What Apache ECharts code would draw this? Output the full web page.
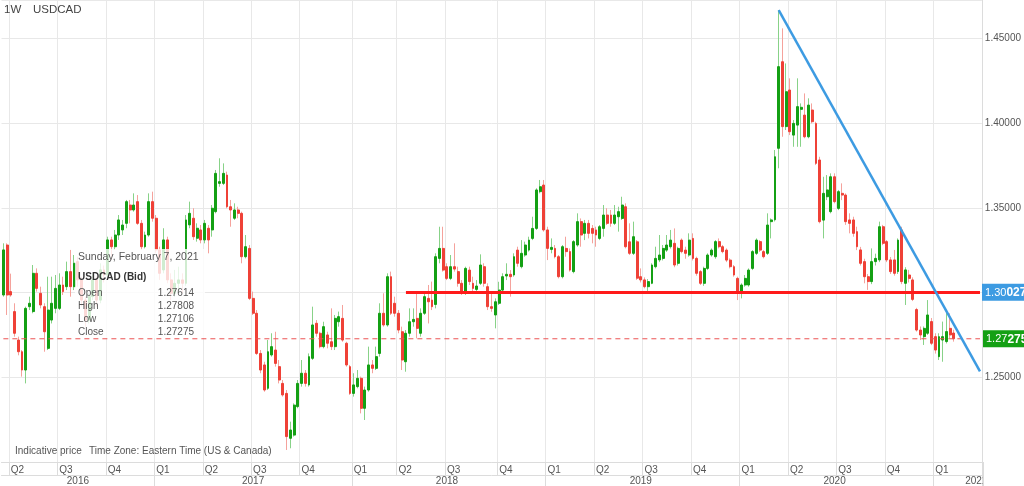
<!DOCTYPE html>
<html><head><meta charset="utf-8">
<script src="https://cdn.jsdelivr.net/npm/echarts@6/dist/echarts.min.js"></script>
<style>html,body{margin:0;padding:0;background:#fff}#c{width:1024px;height:486px}</style>
</head><body><div id="c"></div>
<script>
// ---- data (weekly USDCAD bid candles, first week starts Sunday 2016-03-20) ----
const firstWeek = '2016-03-20';
const emptyWeeks = 7;
const open = [
1.2986,1.3281,1.3006,1.2888,1.2720,1.2651,1.2543,1.2917,1.2888,1.3114,1.2996,1.2917,1.2671,1.2838,1.2907,1.2907,1.3045,1.3035,1.3124,1.3035,
1.3183,1.3075,1.2956,1.2838,1.2976,1.3075,1.2956,1.3134,1.3104,1.3311,1.3271,1.3340,1.3370,1.3409,1.3517,1.3488,1.3537,1.3409,1.3271,1.3340,
1.3537,1.3439,1.3252,1.3134,1.3311,1.3075,1.2996,1.3055,1.3075,1.3055,1.3400,1.3439,1.3321,1.3370,1.3311,1.3380,1.3370,1.3478,1.3645,1.3645,
1.3694,1.3507,1.3439,1.3488,1.3468,1.3212,1.3261,1.2966,1.2878,1.2641,1.2573,1.2435,1.2632,1.2661,1.2563,1.2464,1.2405,1.2140,1.2159,1.2327,
1.2464,1.2524,1.2455,1.2612,1.2819,1.2760,1.2681,1.2750,1.2710,1.2681,1.2828,1.2848,1.2701,1.2563,1.2405,1.2445,1.2494,1.2317,1.2425,1.2573,
1.2553,1.2641,1.2878,1.2809,1.3094,1.2937,1.2878,1.2769,1.2592,1.2760,1.2828,1.2848,1.2760,1.2878,1.2966,1.2956,1.2930,1.3202,1.3261,1.3153,
1.3084,1.3153,1.3124,1.3055,1.2996,1.3133,1.3055,1.3019,1.3055,1.3153,1.3035,1.2917,1.2868,1.2937,1.3015,1.3098,1.3108,1.3104,1.3251,1.3153,
1.3222,1.3251,1.3320,1.3379,1.3596,1.3635,1.3370,1.3255,1.3261,1.3212,1.3094,1.3261,1.3242,1.3124,1.3281,1.3419,1.3350,1.3409,1.3379,1.3370,
1.3320,1.3379,1.3458,1.3458,1.3409,1.3448,1.3438,1.3507,1.3300,1.3232,1.3300,1.3094,1.3075,1.3035,1.3055,1.3153,1.3193,1.3202,1.3251,1.3271,
1.3291,1.3173,1.3310,1.3251,1.3222,1.3320,1.3202,1.3124,1.3055,1.3143,1.3222,1.3212,1.3301,1.3271,1.3251,1.3192,1.3153,1.3084,1.2996,1.3045,
1.3045,1.3143,1.3232,1.3301,1.3242,1.3232,1.3419,1.3430,1.3852,1.4363,1.3980,1.4196,1.3930,1.3989,1.4082,1.4048,1.3920,1.4078,1.3999,1.3783,
1.3428,1.3566,1.3478,1.3684,1.3497,1.3586,1.3576,1.3429,1.3429,1.3360,1.3252,1.3183,1.3094,1.3065,1.3183,1.3193,1.3389,1.3301,1.3193,1.3193,
1.3124,1.3370,1.3055,1.3104,1.3075,1.2900,1.2779,1.2740,1.2760,1.2829,1.2740,1.2622,1.2720,1.2711,1.2789,1.27614];
const close = [
1.3252,1.2986,1.2986,1.2760,1.2651,1.2543,1.2907,1.2937,1.3114,1.3025,1.2927,1.2769,1.2897,1.2937,1.3025,1.3045,1.3006,1.3124,1.3035,1.3173,
1.3075,1.2956,1.2838,1.2976,1.3075,1.2956,1.3134,1.3104,1.3311,1.3271,1.3340,1.3429,1.3399,1.3537,1.3488,1.3517,1.3409,1.3271,1.3340,1.3537,
1.3439,1.3252,1.3114,1.3311,1.3075,1.2996,1.3055,1.3075,1.3055,1.3429,1.3468,1.3330,1.3380,1.3311,1.3409,1.3311,1.3498,1.3704,1.3655,1.3704,
1.3507,1.3488,1.3488,1.3468,1.3212,1.3271,1.2966,1.2878,1.2641,1.2543,1.2425,1.2651,1.2681,1.2582,1.2484,1.2396,1.2150,1.2189,1.2336,1.2464,
1.2524,1.2464,1.2622,1.2809,1.2760,1.2681,1.2799,1.2701,1.2681,1.2848,1.2858,1.2720,1.2573,1.2405,1.2455,1.2494,1.2317,1.2425,1.2573,1.2553,
1.2622,1.2878,1.2809,1.3094,1.2878,1.2878,1.2779,1.2602,1.2760,1.2828,1.2842,1.2789,1.2878,1.2976,1.2946,1.2917,1.3212,1.3261,1.3133,1.3084,
1.3153,1.3139,1.3055,1.2996,1.3143,1.3065,1.3025,1.3039,1.3163,1.3055,1.2917,1.2907,1.2946,1.3015,1.3094,1.3108,1.3094,1.3212,1.3173,1.3232,
1.3281,1.3310,1.3379,1.3606,1.3625,1.3370,1.3261,1.3267,1.3212,1.3094,1.3271,1.3242,1.3133,1.3301,1.3419,1.3340,1.3409,1.3350,1.3350,1.3340,
1.3389,1.3458,1.3409,1.3409,1.3458,1.3478,1.3517,1.3271,1.3232,1.3330,1.3085,1.3075,1.3035,1.3065,1.3163,1.3202,1.3222,1.3261,1.3281,1.3310,
1.3163,1.3261,1.3242,1.3232,1.3310,1.3202,1.3114,1.3055,1.3143,1.3222,1.3251,1.3301,1.3271,1.3242,1.3192,1.3153,1.3104,1.2996,1.3045,1.3084,
1.3133,1.3242,1.3310,1.3251,1.3212,1.3399,1.3429,1.3802,1.4334,1.3980,1.4186,1.3950,1.3999,1.4098,1.4094,1.3920,1.4107,1.4009,1.3763,1.3419,
1.3586,1.3606,1.3684,1.3537,1.3596,1.3576,1.3419,1.3409,1.3350,1.3271,1.3173,1.3094,1.3065,1.3183,1.3202,1.3389,1.3291,1.3193,1.3124,1.3114,
1.3310,1.3065,1.3134,1.3084,1.2960,1.2779,1.2750,1.2789,1.2868,1.2701,1.2661,1.2740,1.2740,1.2770,1.2750,1.27275];
const low = [
1.2976,1.2868,1.2976,1.2740,1.2630,1.2504,1.2464,1.2897,1.2878,1.3006,1.2907,1.2651,1.2661,1.2818,1.2878,1.2897,1.2986,1.3015,1.2976,1.3015,
1.3035,1.2917,1.2799,1.2818,1.2956,1.2917,1.2937,1.3060,1.3090,1.3193,1.3252,1.3311,1.3340,1.3380,1.3409,1.3478,1.3400,1.3252,1.3261,1.3330,
1.3419,1.3232,1.3075,1.3114,1.3055,1.2956,1.2976,1.2996,1.2996,1.3040,1.3380,1.3311,1.3301,1.3291,1.3291,1.3232,1.3330,1.3468,1.3625,1.3635,
1.3498,1.3389,1.3429,1.3439,1.3173,1.3202,1.2956,1.2868,1.2632,1.2524,1.2415,1.2425,1.2622,1.2563,1.2464,1.2386,1.2071,1.2081,1.2150,1.2317,
1.2445,1.2445,1.2445,1.2602,1.2740,1.2671,1.2671,1.2671,1.2661,1.2661,1.2799,1.2710,1.2563,1.2396,1.2386,1.2435,1.2287,1.2248,1.2415,1.2524,
1.2543,1.2622,1.2799,1.2799,1.2868,1.2858,1.2760,1.2543,1.2533,1.2740,1.2799,1.2730,1.2740,1.2868,1.2818,1.2897,1.2907,1.3173,1.3124,1.3074,
1.3074,1.3124,1.3035,1.2986,1.2986,1.3045,1.2996,1.2996,1.3045,1.3035,1.2897,1.2887,1.2789,1.2927,1.3005,1.3074,1.2976,1.3094,1.3153,1.3143,
1.3212,1.3242,1.3310,1.3370,1.3586,1.3360,1.3192,1.3232,1.3202,1.3084,1.3084,1.3212,1.3124,1.3114,1.3271,1.3271,1.3310,1.3320,1.3291,1.3271,
1.3310,1.3330,1.3399,1.3389,1.3399,1.3360,1.3429,1.3261,1.3222,1.3222,1.3075,1.3060,1.3025,1.3010,1.3050,1.3143,1.3180,1.3190,1.3240,1.3260,
1.3150,1.3160,1.3232,1.3200,1.3212,1.3190,1.3100,1.3045,1.3040,1.3133,1.3212,1.3200,1.3261,1.3232,1.3180,1.3143,1.3094,1.2956,1.2966,1.3035,
1.3035,1.3133,1.3222,1.3240,1.3202,1.3222,1.3320,1.3420,1.3734,1.3920,1.3960,1.3930,1.3861,1.3861,1.3861,1.3911,1.3911,1.3999,1.3753,1.3409,
1.3320,1.3546,1.3468,1.3527,1.3487,1.3546,1.3400,1.3350,1.3330,1.3251,1.3160,1.3055,1.3016,1.3050,1.3160,1.3180,1.3280,1.3180,1.3110,1.3100,
1.3110,1.3050,1.2927,1.3060,1.2950,1.2770,1.2720,1.2691,1.2750,1.2690,1.2640,1.2602,1.2592,1.2700,1.2730,1.27106];
const high = [
1.3291,1.3291,1.3112,1.2937,1.2740,1.2661,1.2917,1.2976,1.3163,1.3143,1.3035,1.2937,1.3094,1.3094,1.3104,1.3114,1.3094,1.3183,1.3252,1.3222,
1.3212,1.3094,1.2976,1.2996,1.3114,1.3094,1.3173,1.3160,1.3330,1.3330,1.3370,1.3458,1.3429,1.3547,1.3547,1.3586,1.3576,1.3429,1.3360,1.3586,
1.3596,1.3458,1.3271,1.3380,1.3330,1.3114,1.3134,1.3153,1.3114,1.3458,1.3537,1.3498,1.3409,1.3399,1.3429,1.3399,1.3517,1.3724,1.3793,1.3763,
1.3714,1.3547,1.3527,1.3507,1.3478,1.3340,1.3281,1.3006,1.2897,1.2661,1.2592,1.2720,1.2760,1.2769,1.2602,1.2484,1.2425,1.2238,1.2346,1.2484,
1.2602,1.2543,1.2641,1.2917,1.2838,1.2769,1.2828,1.2769,1.2907,1.2868,1.2888,1.2927,1.2710,1.2573,1.2524,1.2543,1.2504,1.2445,1.2681,1.2602,
1.2681,1.2937,1.2996,1.3114,1.3124,1.2976,1.2897,1.2799,1.2779,1.2907,1.2907,1.2996,1.2907,1.2996,1.3045,1.3065,1.3232,1.3389,1.3389,1.3173,
1.3222,1.3291,1.3153,1.3074,1.3153,1.3153,1.3094,1.3074,1.3226,1.3173,1.3055,1.2996,1.2966,1.3064,1.3114,1.3173,1.3133,1.3232,1.3271,1.3310,
1.3301,1.3330,1.3448,1.3616,1.3665,1.3665,1.3389,1.3320,1.3281,1.3222,1.3281,1.3330,1.3261,1.3310,1.3468,1.3438,1.3429,1.3429,1.3399,1.3389,
1.3399,1.3517,1.3498,1.3488,1.3517,1.3507,1.3566,1.3527,1.3409,1.3419,1.3310,1.3143,1.3090,1.3080,1.3173,1.3271,1.3340,1.3281,1.3340,1.3370,
1.3379,1.3271,1.3320,1.3271,1.3350,1.3350,1.3212,1.3133,1.3153,1.3232,1.3261,1.3310,1.3320,1.3281,1.3261,1.3202,1.3163,1.3094,1.3055,1.3104,
1.3143,1.3251,1.3320,1.3310,1.3251,1.3468,1.3438,1.3842,1.4668,1.4560,1.4353,1.4265,1.4019,1.4265,1.4117,1.4176,1.4147,1.4117,1.4009,1.3802,
1.3684,1.3694,1.3704,1.3704,1.3606,1.3645,1.3586,1.3468,1.3448,1.3389,1.3270,1.3200,1.3110,1.3261,1.3230,1.3419,1.3400,1.3310,1.3210,1.3252,
1.3320,1.3389,1.3150,1.3134,1.3090,1.2910,1.2800,1.2800,1.2956,1.2850,1.2760,1.2760,1.2829,1.2888,1.2878,1.27808];
const resistanceLevel = 1.30027;
const resistanceFromWeek = 108;
const trendFrom = { week: 208, value: 1.4668 };
const trendTo = { week: 262, value: 1.2535 };
const yMin = 1.20, yMax = 1.47275, yStep = 0.05;
const symbolName = 'USDCAD', periodName = '1W';

// ---- derived categories ----
const DAY = 86400000;
const startMs = Date.parse(firstWeek + 'T00:00:00Z');
const N = open.length + emptyWeeks;
const weeks = [];
for (let i = 0; i < N; i++) weeks.push(new Date(startMs + i * 7 * DAY).toISOString().slice(0, 10));
const quarterStart = new Map();
const yearStarts = [];
weeks.forEach((w, i) => {
  const d = new Date(w + 'T00:00:00Z');
  const m = d.getUTCMonth(), day = d.getUTCDate();
  if (day <= 7 && m % 3 === 0) {
    quarterStart.set(i, 'Q' + (m / 3 + 1));
    if (m === 0) yearStarts.push(i);
  }
});
const yearLabel = new Map();
const spanStarts = [0].concat(yearStarts);
const spanEnds = yearStarts.concat([N + 11]);
spanStarts.forEach((s, k) => {
  const idx = Math.floor((s + spanEnds[k]) / 2 - 0.5);
  yearLabel.set(Math.min(idx, N - 1), weeks[s].slice(0, 4));
});

const last = open.length - 1;
const FONT = "'Liberation Sans', Arial, Helvetica, sans-serif";
const GREEN = '#14a014', RED = '#ef4137', GREEN_W = '#88d288', RED_W = '#f5a29c';
const DASH_RED = '#ec5353';
const bodyData = open.map((o, i) => [o, close[i], Math.min(o, close[i]), Math.max(o, close[i])]);
const wickData = open.map((o, i) => [o, close[i], low[i], high[i]]);
const lastPriceLine = [[weeks[0], close[last]], [weeks[N - 1], close[last]]];

function tagText(v) { const s = v.toFixed(5); return '{a|' + s.slice(0, 4) + '}{b|' + s.slice(4) + '}'; }
const tagRich = {
  a: { color: '#fff', fontSize: 11, fontFamily: FONT },
  b: { color: '#fff', fontSize: 12, fontWeight: 'bold', fontFamily: FONT }
};

const lastDate = new Date(weeks[last] + 'T00:00:00Z').toLocaleDateString('en-US',
  { weekday: 'long', year: 'numeric', month: 'long', day: 'numeric', timeZone: 'UTC' });
const rows = [['Open', open[last]], ['High', high[last]], ['Low', low[last]], ['Close', close[last]]];

const chart = echarts.init(document.getElementById('c'), null, { renderer: 'canvas' });
chart.setOption({
  animation: false,
  backgroundColor: '#fff',
  grid: { left: 1.5, right: 41, top: -1, bottom: 24 },
  xAxis: [{
    type: 'category', data: weeks, boundaryGap: true, position: 'bottom',
    axisLine: { show: true, lineStyle: { color: '#dcdcdc' } },
    axisTick: { show: true, interval: i => quarterStart.has(i), length: 13, lineStyle: { color: '#dcdcdc' } },
    axisLabel: { interval: i => quarterStart.has(i), formatter: (v, i) => quarterStart.get(i) || '',
      align: 'left', color: '#555', fontSize: 10, margin: 3, fontFamily: FONT },
    splitLine: { show: true, interval: i => quarterStart.has(i), lineStyle: { color: '#e8e8e8' } }
  }, {
    type: 'category', data: weeks, boundaryGap: true, position: 'bottom', offset: 13,
    axisLine: { show: true, lineStyle: { color: '#dcdcdc' } },
    axisTick: { show: true, interval: i => yearStarts.includes(i), length: 11, lineStyle: { color: '#dcdcdc' } },
    axisLabel: { interval: i => yearLabel.has(i), formatter: (v, i) => yearLabel.get(i) || '',
      color: '#555', fontSize: 10, margin: 1, fontFamily: FONT },
    splitLine: { show: false }
  }],
  yAxis: {
    type: 'value', position: 'right', min: yMin, max: yMax, interval: yStep,
    axisLine: { show: true, lineStyle: { color: '#dcdcdc' } }, axisTick: { show: false },
    axisLabel: { color: '#555', fontSize: 10, margin: 3, fontFamily: FONT,
      formatter: v => v.toFixed(5), showMinLabel: false, showMaxLabel: false },
    splitLine: { lineStyle: { color: '#e8e8e8' } }
  },
  series: [{
    type: 'candlestick', name: 'wicks', data: wickData, barWidth: 1, z: 2, silent: true,
    itemStyle: { color: GREEN_W, color0: RED_W, borderColor: GREEN_W, borderColor0: RED_W, borderWidth: 1 }
  }, {
    type: 'candlestick', name: symbolName, data: bodyData, barWidth: 2.4, z: 3, silent: true,
    itemStyle: { color: GREEN, color0: RED, borderColor: GREEN, borderColor0: RED, borderWidth: 1 },
    markLine: {
      silent: true, symbol: ['none', 'none'], animation: false, precision: 5,
      data: [
        [{ coord: [weeks[resistanceFromWeek], resistanceLevel],
           lineStyle: { color: '#ff1a1a', width: 3, type: 'solid' },
           label: { show: true, position: 'end', distance: 2, formatter: () => tagText(resistanceLevel),
             backgroundColor: '#3d9be2', padding: [3, 4, 2, 3], rich: tagRich } },
         { coord: [weeks[N - 1], resistanceLevel] }],
        [{ coord: [weeks[trendFrom.week], trendFrom.value],
           lineStyle: { color: '#3d9be2', width: 2.5, type: 'solid' }, label: { show: false } },
         { coord: [weeks[trendTo.week], trendTo.value] }]
      ]
    }
  }, {
    type: 'line', name: 'last price', data: lastPriceLine, xAxisIndex: 0, yAxisIndex: 0,
    symbol: 'none', silent: true, z: 4, color: DASH_RED,
    lineStyle: { color: DASH_RED, width: 1, type: [5, 4] },
    endLabel: { show: true, distance: 3, formatter: () => tagText(close[last]),
      backgroundColor: '#14a014', padding: [3, 4, 2, 3], rich: tagRich }
  }],
  graphic: [
    { type: 'text', left: 4, top: 4, z: 50, style: { text: periodName, fill: '#444', font: '11.5px ' + FONT } },
    { type: 'text', left: 33, top: 4, z: 50, style: { text: symbolName, fill: '#444', font: '11.5px ' + FONT } },
    { type: 'text', left: 15, top: 446, z: 50, style: { text: 'Indicative price', fill: '#555', font: '10px ' + FONT } },
    { type: 'text', left: 89, top: 446, z: 50, style: { text: 'Time Zone: Eastern Time (US & Canada)', fill: '#555', font: '10px ' + FONT } },
    { type: 'rect', z: 60, shape: { x: 983.5, y: 476, width: 41, height: 10 }, style: { fill: '#fff' } },
    { type: 'line', z: 61, shape: { x1: 983.5, y1: 462, x2: 983.5, y2: 486 }, style: { stroke: '#dcdcdc', lineWidth: 1 } },
    {
      type: 'group', left: 75, top: 249, z: 100,
      children: [
        { type: 'rect', z: 100, shape: { x: 0, y: 0, width: 130, height: 89 }, style: { fill: 'rgba(255,255,255,0.8)' } },
        { type: 'text', z: 101, x: 3, y: 3, style: { text: lastDate, fill: '#555', font: '10.5px ' + FONT } },
        { type: 'text', z: 101, x: 3, y: 23, style: { text: symbolName + ' (Bid)', fill: '#333', font: 'bold 10px ' + FONT } }
      ].concat(rows.flatMap((r, k) => [
        { type: 'text', z: 101, x: 3, y: 39 + k * 13.2, style: { text: r[0], fill: '#555', font: '10px ' + FONT } },
        { type: 'text', z: 101, x: 119, y: 39 + k * 13.2, style: { text: r[1].toFixed(5), fill: '#555', font: '10px ' + FONT, align: 'right' } }
      ]))
    }
  ]
});
</script>
</body></html>
